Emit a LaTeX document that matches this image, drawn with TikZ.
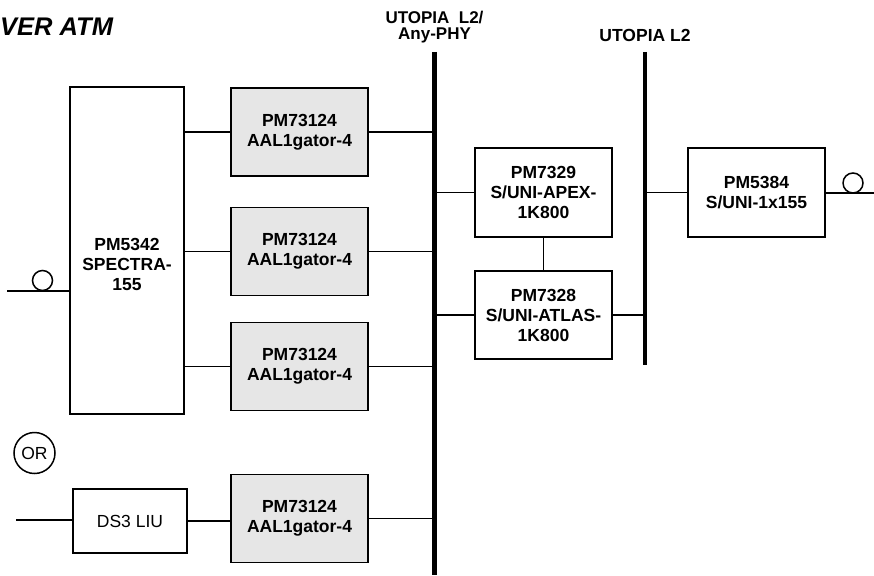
\documentclass[tikz,border=0pt]{standalone}
\usepackage{fontspec}
\setmainfont{Liberation Sans}
\definecolor{chipgray}{RGB}{230,230,230}
\tikzset{
  chip/.style={draw, line width=1.5pt, align=center, inner sep=0pt,
    minimum width=137pt, minimum height=88pt,
    font=\bfseries\fontsize{17.5}{20}\selectfont},
  aal/.style={chip, fill=chipgray},
  wire/.style={line width=1.5pt},
  bus/.style={line width=4.5pt},
  fiber/.style={draw, circle, line width=1.5pt, minimum size=20pt, inner sep=0pt},
}
\begin{document}
\begin{tikzpicture}[x=1pt, y=-1pt]
\useasboundingbox (0,0) rectangle (874,575);

\node[anchor=base west, inner sep=0pt, font=\bfseries\itshape\fontsize{25.5}{30}\selectfont] (title) at (0,35.5) {VER ATM};

% busses
\coordinate (bus1top) at (434.5,52);
\coordinate (bus1bot) at (434.5,575);
\coordinate (bus2top) at (645,52);
\coordinate (bus2bot) at (645,365);
\draw[bus] (bus1top) -- (bus1bot);
\draw[bus] (bus2top) -- (bus2bot);
\node[anchor=base, inner sep=0pt, align=center, font=\bfseries\fontsize{17}{15.5}\selectfont] (bus1lbl) at (434.5,39.5) {UTOPIA\ \ L2/\\Any-PHY};
\node[anchor=base, inner sep=0pt, font=\bfseries\fontsize{17.5}{15}\selectfont] (bus2lbl) at (645,42) {UTOPIA L2};

% line side
\node[chip, minimum width=114pt, minimum height=327pt] (spectra) at (127,250.5) {};
\node[align=center, inner sep=0pt, font=\bfseries\fontsize{17.5}{20}\selectfont] (spectratxt) at (127,264) {PM5342\\SPECTRA-\\155};
\node[aal] (aal1) at (299.5,132) {PM73124\\AAL1gator-4};
\node[aal] (aal2) at (299.5,251.5) {PM73124\\AAL1gator-4};
\node[aal] (aal3) at (299.5,366.5) {PM73124\\AAL1gator-4};
\node[aal] (aal4) at (299.5,518.5) {PM73124\\AAL1gator-4};
\node[chip, font=\fontsize{17.5}{20}\selectfont, minimum width=114pt, minimum height=64pt] (ds3) at (130,521) {DS3 LIU};
\node[draw, circle, line width=1.5pt, minimum size=41pt, inner sep=0pt, font=\fontsize{17.5}{20}\selectfont] (or) at (34.5,453) {OR};

\coordinate (fiberL) at (7,291);
\coordinate (ds3in) at (16,520);
\draw[wire] (fiberL) -- (fiberL -| spectra.west);
\node[fiber] (loopL) at (42.5,280.5) {};
\draw[wire] (ds3in) -- (ds3in -| ds3.west);
\draw[wire] (ds3.east) -- (ds3.east -| aal4.west);

\draw[wire] (aal1.west) -- (aal1.west -| spectra.east);
\draw[wire] (aal2.west) -- (aal2.west -| spectra.east);
\draw[wire] (aal3.west) -- (aal3.west -| spectra.east);
\draw[wire] (aal1.east) -- (aal1.east -| bus1top);
\draw[wire] (aal2.east) -- (aal2.east -| bus1top);
\draw[wire] (aal3.east) -- (aal3.east -| bus1top);
\draw[wire] (aal4.east) -- (aal4.east -| bus1top);

% switch side
\node[chip, minimum height=89pt] (apex) at (543.5,192.5) {PM7329\\S/UNI-APEX-\\1K800};
\node[chip] (atlas) at (543.5,315) {PM7328\\S/UNI-ATLAS-\\1K800};
\node[chip, minimum height=89pt] (uni) at (756.5,192.5) {PM5384\\S/UNI-1x155};

\draw[wire] (apex.west) -- (apex.west -| bus1top);
\draw[wire] (atlas.west) -- (atlas.west -| bus1top);
\draw[wire] (atlas.east) -- (atlas.east -| bus2top);
\draw[wire] (apex.south) -- (atlas.north);
\draw[wire] (uni.west) -- (uni.west -| bus2top);

\coordinate (fiberR) at (874,193);
\draw[wire] (uni.east |- fiberR) -- (fiberR);
\node[fiber] (loopR) at (853,183) {};

\end{tikzpicture}
\end{document}
